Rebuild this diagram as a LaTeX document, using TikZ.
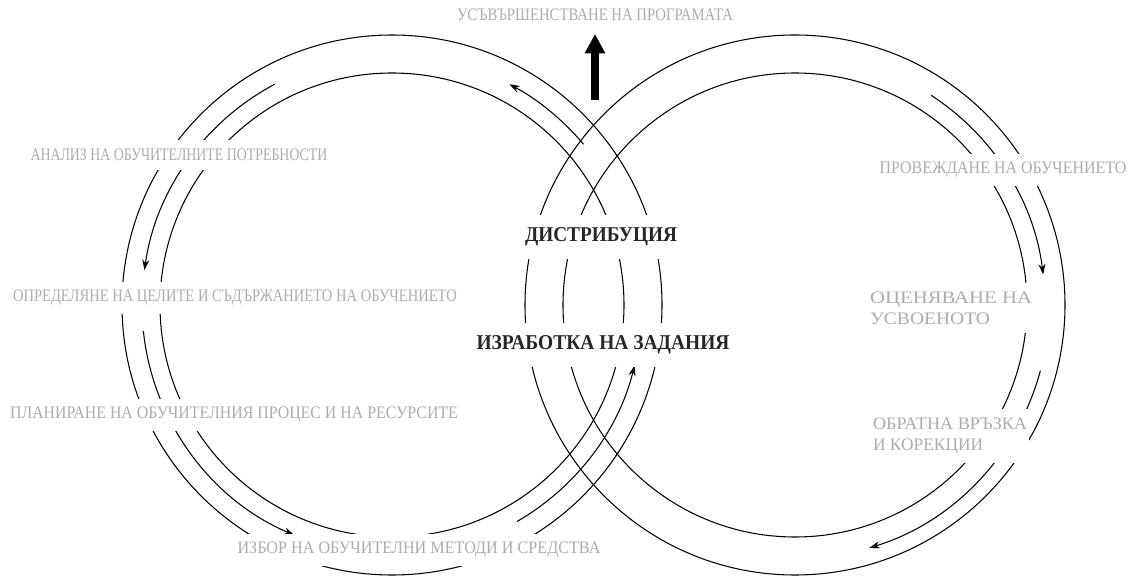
\documentclass[tikz,border=0pt]{standalone}
\usepackage{graphicx}
\usepackage{fontspec}
\setmainfont{Liberation Serif}
\usetikzlibrary{arrows.meta}
\newcommand\fitw[2]{\resizebox{#1}{\height}{#2}}
\tikzset{
  ring/.style={line width=0.6pt},
  flow/.style={line width=0.6pt, -{Stealth[length=6pt,width=4pt]}},
  lbl/.style={fill=white, text=black!32, inner xsep=1pt, inner ysep=5pt,
              font=\fontsize{10}{12}\selectfont},
  key/.style={fill=white, text=black!85, inner xsep=2pt, inner ysep=7pt,
              font=\bfseries\fontsize{12}{14}\selectfont},
  bigarrow/.style={line width=5pt, -{Triangle[length=11pt,width=11pt]}}
}
\begin{document}
\begin{tikzpicture}[x=0.02cm,y=0.02cm]
\useasboundingbox (0,0) rectangle (1136,-580);
\coordinate (L) at (392,-305);
\coordinate (R) at (795,-305);
% rings
\draw[ring] (L) circle[radius=270];
\draw[ring] (L) circle[radius=232];
\draw[ring] (R) circle[radius=270];
\draw[ring] (R) circle[radius=232];
% flow arcs, left circle (counterclockwise)
\draw[flow] ([shift={(118:250)}]L) arc[start angle=118,end angle=172,radius=250];
\draw[flow] ([shift={(186:250)}]L) arc[start angle=186,end angle=247,radius=250];
\draw[flow] ([shift={(-60:250)}]L) arc[start angle=-60,end angle=-14,radius=250];
\draw[flow] ([shift={(40:250)}]L) arc[start angle=40,end angle=62,radius=250];
% flow arcs, right circle (clockwise)
\draw[flow] ([shift={(57:250)}]R) arc[start angle=57,end angle=7,radius=250];
\draw[flow] ([shift={(-15:254)}]R) arc[start angle=-15,end angle=-73,radius=254];
% labels
\node[lbl] (t1) at (595,-15) {\fitw{5.52cm}{УСЪВЪРШЕНСТВАНЕ НА ПРОГРАМАТА}};
\node[lbl] (l1) at (179,-155) {\fitw{5.94cm}{АНАЛИЗ НА ОБУЧИТЕЛНИТЕ ПОТРЕБНОСТИ}};
\node[lbl] (l2) at (235,-298) {\fitw{8.88cm}{ОПРЕДЕЛЯНЕ НА ЦЕЛИТЕ И СЪДЪРЖАНИЕТО НА ОБУЧЕНИЕТО}};
\node[lbl] (l3) at (234,-415) {\fitw{8.96cm}{ПЛАНИРАНЕ НА ОБУЧИТЕЛНИЯ ПРОЦЕС И НА РЕСУРСИТЕ}};
\node[lbl] (l4) at (419,-550) {\fitw{7.26cm}{ИЗБОР НА ОБУЧИТЕЛНИ МЕТОДИ И СРЕДСТВА}};
\node[lbl] (r1) at (1003,-170) {\fitw{4.94cm}{ПРОВЕЖДАНЕ НА ОБУЧЕНИЕТО}};
\node[lbl, anchor=west, align=left] (r2) at (868,-308) {\fitw{3.24cm}{ОЦЕНЯВАНЕ НА}\\\fitw{2.4cm}{УСВОЕНОТО}};
\node[lbl, anchor=west, align=left] (r3) at (871,-436) {\fitw{3.08cm}{ОБРАТНА ВРЪЗКА}\\\fitw{2.2cm}{И КОРЕКЦИИ}};
\node[key] (dist) at (601,-237) {\fitw{3.04cm}{ДИСТРИБУЦИЯ}};
\node[key] (izr) at (603,-345) {\fitw{5.06cm}{ИЗРАБОТКА НА ЗАДАНИЯ}};
% thick arrow up
\coordinate (up0) at (595,-100);
\coordinate (up1) at (595,-34);
\draw[bigarrow] (up0) -- (up1);
\end{tikzpicture}
\end{document}
